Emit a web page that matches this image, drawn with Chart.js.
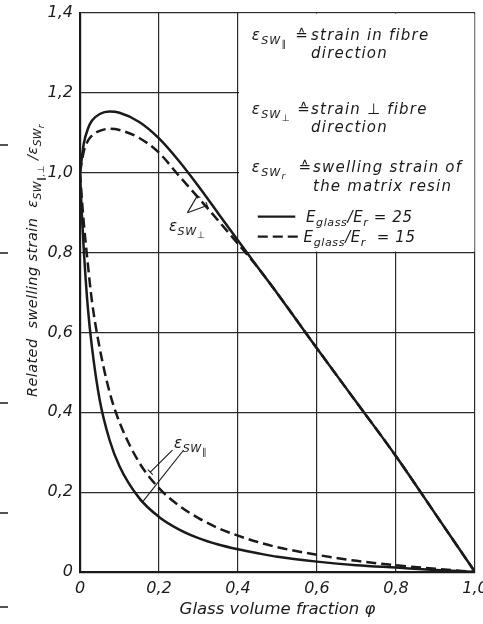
<!DOCTYPE html>
<html>
<head>
<meta charset="utf-8">
<script src="https://cdn.jsdelivr.net/npm/chart.js@4.4.1/dist/chart.umd.min.js"></script>
<style>
html, body { margin: 0; padding: 0; background: #fff; }
</style>
</head>
<body>
<canvas id="mycanvas" width="483" height="624"></canvas>
<script>
// glass volume fraction (x values shared by all curves)
var phi = [0, 0.005, 0.01, 0.02, 0.03, 0.05, 0.075, 0.1, 0.15, 0.2, 0.25, 0.3, 0.35, 0.4, 0.45, 0.5, 0.6, 0.7, 0.8, 0.9, 1.0];

// strain perpendicular to fibre, E_glass/E_r = 25 and 15
var perp25 = [1.0, 1.04, 1.075, 1.11, 1.13, 1.147, 1.153, 1.15, 1.127, 1.086, 1.03, 0.966, 0.898, 0.83, 0.763, 0.697, 0.56, 0.425, 0.29, 0.145, 0];
var perp15 = [1.0, 1.03, 1.055, 1.08, 1.093, 1.105, 1.11, 1.107, 1.087, 1.05, 0.993, 0.937, 0.88, 0.822, 0.763, 0.697, 0.56, 0.425, 0.29, 0.145, 0];

// strain in fibre direction, E_glass/E_r = 25 and 15
var par25 = [1.0, 0.89, 0.80, 0.66, 0.565, 0.43, 0.33, 0.265, 0.185, 0.138, 0.107, 0.085, 0.069, 0.057, 0.047, 0.038, 0.026, 0.017, 0.011, 0.005, 0];
var par15 = [1.0, 0.93, 0.87, 0.77, 0.68, 0.56, 0.45, 0.375, 0.274, 0.21, 0.167, 0.135, 0.11, 0.091, 0.075, 0.062, 0.043, 0.028, 0.017, 0.008, 0];

var xTicks = [0, 0.2, 0.4, 0.6, 0.8, 1.0];
var yTicks = [0, 0.2, 0.4, 0.6, 0.8, 1.0, 1.2, 1.4];

var FONT = '"DejaVu Sans"';
var INK = '#1a1a1a';

function pts(ys) {
	var out = [];
	for (var i in phi) {
		out.push({ x: phi[i], y: ys[i] });
	}
	return out;
}

function fmt(v) {
	if (Math.abs(v) < 1e-9) return '0';
	return v.toFixed(1).replace('.', ',');
}

// draws text with sub / sub-sub levels, returns end x
function rich(ctx, parts, x, y, size) {
	var cx = x;
	for (var i = 0; i < parts.length; i++) {
		var lvl = parts[i][1] || 0;
		var fs = lvl === 0 ? size : (lvl === 1 ? size * 0.74 : size * 0.62);
		var dy = lvl === 0 ? 0 : (lvl === 1 ? size * 0.28 : size * 0.48);
		ctx.font = 'italic ' + fs + 'px ' + FONT;
		ctx.fillText(parts[i][0], cx, y + dy);
		cx += ctx.measureText(parts[i][0]).width;
	}
	return cx;
}

function leader(ctx, xs, ys, a, b) {
	var x1 = xs.getPixelForValue(a[0]), y1 = ys.getPixelForValue(a[1]);
	var x2 = xs.getPixelForValue(b[0]), y2 = ys.getPixelForValue(b[1]);
	ctx.beginPath();
	ctx.moveTo(x1, y1);
	ctx.lineTo(x2, y2);
	var dx = x2 - x1, dy = y2 - y1, l = Math.sqrt(dx * dx + dy * dy);
	var nx = -dy / l * 3.5, ny = dx / l * 3.5;
	ctx.moveTo(x2 - nx, y2 - ny);
	ctx.lineTo(x2 + nx, y2 + ny);
	ctx.stroke();
}

var overlay = {
	id: 'overlay',
	beforeDatasetsDraw: function(chart) {
		// the key box covers the grid in the upper right
		var ctx = chart.ctx, xs = chart.scales.x, ys = chart.scales.y;
		var l = xs.getPixelForValue(0.4) + 1, r = xs.getPixelForValue(1.0) - 0.6;
		var t = ys.getPixelForValue(1.4) + 0.6, b = ys.getPixelForValue(0.8) - 1;
		ctx.save();
		ctx.fillStyle = '#fff';
		ctx.fillRect(l, t, r - l, b - t);
		ctx.restore();
	},
	afterDraw: function(chart) {
		var ctx = chart.ctx, xs = chart.scales.x, ys = chart.scales.y;
		function X(v) { return xs.getPixelForValue(v); }
		function Y(v) { return ys.getPixelForValue(v); }
		ctx.save();
		ctx.fillStyle = INK;
		ctx.strokeStyle = INK;
		ctx.textBaseline = 'alphabetic';
		try { ctx.letterSpacing = '1.2px'; } catch (e) {}

		// key text
		var s = 15;
		rich(ctx, [['ε', 0], ['SW', 1], ['∥', 2]], X(0.435), Y(1.333), s);
		rich(ctx, [['≙', 0]], X(0.545), Y(1.333), s);
		rich(ctx, [['strain in fibre', 0]], X(0.585), Y(1.333), s);
		rich(ctx, [['direction', 0]], X(0.585), Y(1.288), s);

		rich(ctx, [['ε', 0], ['SW', 1], ['⊥', 2]], X(0.435), Y(1.148), s);
		rich(ctx, [['≙', 0]], X(0.55), Y(1.148), s);
		rich(ctx, [['strain ⊥ fibre', 0]], X(0.585), Y(1.148), s);
		rich(ctx, [['direction', 0]], X(0.585), Y(1.103), s);

		rich(ctx, [['ε', 0], ['SW', 1], ['r', 2]], X(0.435), Y(1.003), s);
		rich(ctx, [['≙', 0]], X(0.553), Y(1.003), s);
		rich(ctx, [['swelling strain of', 0]], X(0.59), Y(1.003), s);
		rich(ctx, [['the matrix resin', 0]], X(0.59), Y(0.955), s);

		ctx.lineWidth = 2.4;
		ctx.beginPath();
		ctx.moveTo(X(0.45), Y(0.89));
		ctx.lineTo(X(0.545), Y(0.89));
		ctx.stroke();
		ctx.setLineDash([10, 5]);
		ctx.beginPath();
		ctx.moveTo(X(0.45), Y(0.84));
		ctx.lineTo(X(0.562), Y(0.84));
		ctx.stroke();
		ctx.setLineDash([]);
		try { ctx.letterSpacing = '0.6px'; } catch (e) {}
		rich(ctx, [['E', 0], ['glass', 1], ['/E', 0], ['r', 1], [' = 25', 0]], X(0.572), Y(0.876), s);
		rich(ctx, [['E', 0], ['glass', 1], ['/E', 0], ['r', 1], ['  = 15', 0]], X(0.566), Y(0.826), s);

		// curve labels with leaders
		ctx.lineWidth = 1.1;
		rich(ctx, [['ε', 0], ['SW', 1], ['⊥', 2]], X(0.225), Y(0.855), s);
		leader(ctx, xs, ys, [0.272, 0.9], [0.297, 0.942]);
		leader(ctx, xs, ys, [0.272, 0.9], [0.322, 0.918]);

		rich(ctx, [['ε', 0], ['SW', 1], ['∥', 2]], X(0.238), Y(0.31), s);
		leader(ctx, xs, ys, [0.234, 0.305], [0.178, 0.25]);
		leader(ctx, xs, ys, [0.262, 0.305], [0.158, 0.175]);

		// rotated y axis title
		try { ctx.letterSpacing = '0.4px'; } catch (e) {}
		ctx.save();
		ctx.translate(37, 397);
		ctx.rotate(-Math.PI / 2);
		rich(ctx, [['Related  swelling strain  ', 0], ['ε', 0], ['SW', 1], ['∥,⊥', 2], [' /', 0], ['ε', 0], ['SW', 1], ['r', 2]], 0, 0, 14.5);
		ctx.restore();

		// marks bleeding in from the facing page
		ctx.lineWidth = 1.5;
		var marks = [145, 253, 403, 513, 607];
		for (var i in marks) {
			ctx.beginPath();
			ctx.moveTo(0, marks[i]);
			ctx.lineTo(8, marks[i]);
			ctx.stroke();
		}
		ctx.restore();
	}
};

function line(ys, dashed) {
	return {
		data: pts(ys),
		borderColor: INK,
		borderWidth: 2.5,
		borderDash: dashed ? [10, 5] : [],
		pointRadius: 0,
		fill: false,
		cubicInterpolationMode: 'monotone'
	};
}

var tickFont = { family: FONT, style: 'italic', size: 16 };

var ctx = document.getElementById('mycanvas');
var graph = new Chart(ctx, {
	type: 'line',
	data: {
		datasets: [line(perp25, false), line(perp15, true), line(par25, false), line(par15, true)]
	},
	plugins: [overlay],
	options: {
		responsive: false,
		animation: false,
		layout: { padding: { top: 13, right: 8, left: 0, bottom: 0 } },
		plugins: { legend: { display: false }, tooltip: { enabled: false } },
		scales: {
			x: {
				type: 'linear',
				min: 0,
				max: 1,
				afterBuildTicks: function(s) { s.ticks = xTicks.map(function(v) { return { value: v }; }); },
				afterFit: function(s) { s.height = 52; s.paddingLeft = 0; s.paddingRight = 0; },
				ticks: { callback: fmt, font: tickFont, color: INK, padding: 7, maxRotation: 0 },
				grid: { color: '#2a2a2a', lineWidth: 1.2, drawTicks: false },
				border: { display: true, color: INK, width: 2.2 },
				title: { display: true, text: 'Glass volume fraction φ', font: { family: FONT, style: 'italic', size: 16.5 }, color: INK, padding: { top: 2, bottom: 4 } }
			},
			y: {
				type: 'linear',
				min: 0,
				max: 1.4,
				afterBuildTicks: function(s) { s.ticks = yTicks.map(function(v) { return { value: v }; }); },
				afterFit: function(s) { s.width = 80; s.paddingTop = 0; s.paddingBottom = 0; },
				ticks: { callback: fmt, font: tickFont, color: INK, padding: 7 },
				grid: { color: '#2a2a2a', lineWidth: 1.2, drawTicks: false },
				border: { display: true, color: INK, width: 2.2 }
			}
		}
	}
});
</script>
</body>
</html>
